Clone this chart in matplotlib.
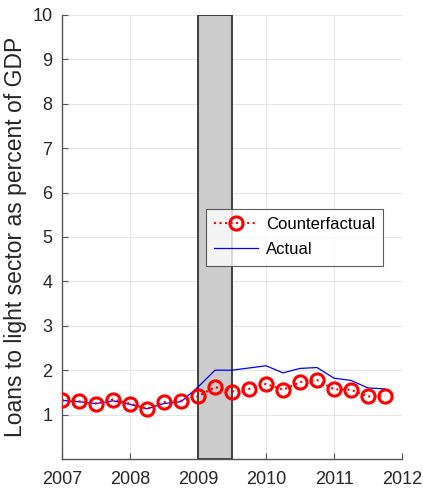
import numpy as np
import matplotlib.pyplot as plt
from matplotlib.patches import Rectangle

plt.rcParams['font.family'] = ['Liberation Sans', 'DejaVu Sans']

# quarterly observations, 2007Q1 - 2011Q4
quarters = [2007.0, 2007.25, 2007.5, 2007.75, 2008.0, 2008.25, 2008.5, 2008.75,
            2009.0, 2009.25, 2009.5, 2009.75, 2010.0, 2010.25, 2010.5, 2010.75,
            2011.0, 2011.25, 2011.5, 2011.75]
counterfactual = [1.32, 1.30, 1.25, 1.34, 1.25, 1.13, 1.28, 1.31,
                  1.41, 1.62, 1.52, 1.58, 1.69, 1.56, 1.73, 1.78,
                  1.57, 1.56, 1.41, 1.41]
actual = [1.32, 1.29, 1.25, 1.31, 1.23, 1.13, 1.25, 1.29,
          1.62, 2.00, 2.00, 2.05, 2.10, 1.94, 2.04, 2.06,
          1.82, 1.77, 1.60, 1.58]
crisis_start, crisis_end = 2009.0, 2009.5

fig = plt.figure(figsize=(4.23, 4.91), dpi=100)
ax = fig.add_axes([62 / 423, 1 - 459 / 491, 340 / 423, 444 / 491])

ax.add_patch(Rectangle((crisis_start, 0), crisis_end - crisis_start, 10,
                       facecolor='#cccccc', edgecolor='#333333', lw=1.3, zorder=2))

ax.plot(quarters, counterfactual, linestyle=':', color='red', lw=1.5,
        marker='o', markersize=9.5, markerfacecolor='none', markeredgewidth=2.2,
        markeredgecolor='red', label='Counterfactual', zorder=4)
ax.plot(quarters, actual, color='blue', lw=0.9, label='Actual', zorder=3)

ax.set_xlim(2007, 2012)
ax.set_ylim(0, 10)
ax.set_xticks(range(2007, 2013))
ax.set_yticks(range(1, 11))
ax.grid(True, color='#e6e6e6', lw=0.8, zorder=0)
ax.set_axisbelow(True)

for side in ['top', 'right']:
    ax.spines[side].set_visible(False)
for side in ['left', 'bottom']:
    ax.spines[side].set_color('#555555')
    ax.spines[side].set_linewidth(1.0)

ax.tick_params(direction='in', length=4, width=0.8, color='#555555',
               labelcolor='#262626', labelsize=13)
ax.tick_params(axis='x', pad=9)
ax.tick_params(axis='y', pad=7)
ax.set_ylabel('Loans to light sector as percent of GDP', fontsize=16.5,
              color='#262626', labelpad=4)

leg = ax.legend(loc='upper left', bbox_to_anchor=(144 / 340, 250 / 444),
                fontsize=12, frameon=True, fancybox=False, edgecolor='#333333',
                borderpad=0.5, handlelength=2.6, labelspacing=0.6,
                handletextpad=0.5, borderaxespad=0)
leg.get_frame().set_linewidth(0.8)
leg.set_zorder(5)

fig.savefig('out.png', dpi=100)
